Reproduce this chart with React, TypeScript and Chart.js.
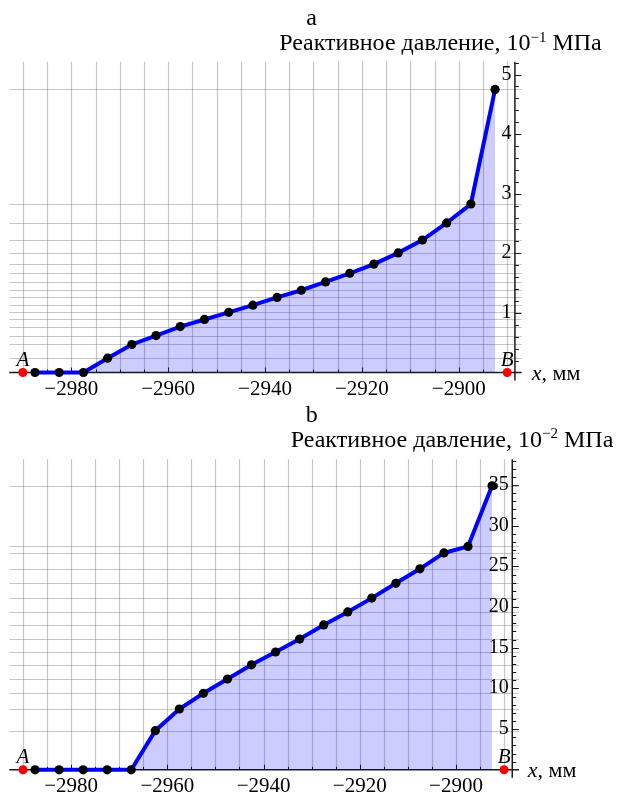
import React, { useEffect, useRef } from "react";
import { Chart, registerables } from "chart.js";

Chart.register(...registerables);

// ---------- data ----------
const positionsMm = [
  -2987.5, -2982.5, -2977.5, -2972.5, -2967.5, -2962.5, -2957.5, -2952.5, -2947.5, -2942.5,
  -2937.5, -2932.5, -2927.5, -2922.5, -2917.5, -2912.5, -2907.5, -2902.5, -2897.5, -2892.5,
];
// panel a, 10^-1 MPa
const pressureA = [
  0, 0, 0, 0.24, 0.47, 0.62, 0.77, 0.89, 1.01, 1.13,
  1.26, 1.38, 1.52, 1.665, 1.82, 2.007, 2.223, 2.51, 2.827, 4.75,
];
// panel b, 10^-2 MPa
const pressureB = [
  0, 0, 0, 0, 0, 4.81, 7.47, 9.4, 11.16, 12.9,
  14.48, 16.07, 17.8, 19.4, 21.1, 22.92, 24.7, 26.65, 27.45, 34.9,
];
const endpointPositions = [-2990, -2890];
const endpointValues = [0, 0];
const endpointLabels = ["A", "B"];
const xTickValues = [-2980, -2960, -2940, -2920, -2900];
const xTickLabels = ["−2980", "−2960", "−2940", "−2920", "−2900"];
const xGridValues = [
  -2990, -2985, -2980, -2975, -2970, -2965, -2960, -2955, -2950, -2945, -2940,
  -2935, -2930, -2925, -2920, -2915, -2910, -2905, -2900, -2895, -2890,
];
const yTicksA = [1, 2, 3, 4, 5];
const yTicksB = [5, 10, 15, 20, 25, 30, 35];
const unitExponents = ["−1", "−2"];
const panelTitles = ["a", "b"];

const SERIF = '"Liberation Serif", "Times New Roman", serif';

type Panel = {
  values: number[];
  yTicks: number[];
  yMax: number;
  minorStep: number;
  xMin: number;
  xMax: number;
  axisAt: number;
  padding: { left: number; right: number; top: number; bottom: number };
  title: string;
  exponent: string;
  titleBaseline: number;
  labelRight: number;
  labelBaseline: number;
  xLabelLeft: number;
};

const panels: Panel[] = [
  {
    values: pressureA,
    yTicks: yTicksA,
    yMax: 5.215,
    minorStep: 0.2,
    xMin: -2992.8,
    xMax: -2887,
    axisAt: -2888.4,
    padding: { left: 9.3, right: 95.3, top: 61.7, bottom: 23.5 },
    title: panelTitles[0],
    exponent: unitExponents[0],
    titleBaseline: 25,
    labelRight: 601.7,
    labelBaseline: 50,
    xLabelLeft: 531.7,
  },
  {
    values: pressureB,
    yTicks: yTicksB,
    yMax: 38.16,
    minorStep: 1,
    xMin: -2992.85,
    xMax: -2886.9,
    axisAt: -2888.3,
    padding: { left: 9.3, right: 98, top: 63.3, bottom: 22.2 },
    title: panelTitles[1],
    exponent: unitExponents[1],
    titleBaseline: 25.7,
    labelRight: 613.3,
    labelBaseline: 50.7,
    xLabelLeft: 527.7,
  },
];

function makePlugin(panel: Panel) {
  return {
    id: "panelDecor",
    beforeDatasetsDraw(chart: any) {
      const { ctx, chartArea } = chart;
      const xs = chart.scales.x;
      const ys = chart.scales.y;
      const y0 = ys.getPixelForValue(0);
      const ax = xs.getPixelForValue(panel.axisAt);
      ctx.save();
      // grid lines
      ctx.strokeStyle = "rgba(120,120,120,0.42)";
      ctx.lineWidth = 1.2;
      for (const v of xGridValues) {
        const px = Math.round(xs.getPixelForValue(v)) + 0.5;
        ctx.beginPath();
        ctx.moveTo(px, chartArea.top);
        ctx.lineTo(px, y0);
        ctx.stroke();
      }
      const seen = new Set<number>();
      for (const v of panel.values) {
        if (v <= 0 || seen.has(v)) continue;
        seen.add(v);
        const py = Math.round(ys.getPixelForValue(v)) + 0.5;
        ctx.beginPath();
        ctx.moveTo(chartArea.left, py);
        ctx.lineTo(chartArea.right, py);
        ctx.stroke();
      }
      // axes
      ctx.strokeStyle = "#1a1a1a";
      ctx.lineWidth = 1.5;
      ctx.beginPath();
      ctx.moveTo(chartArea.left, y0);
      ctx.lineTo(chartArea.right, y0);
      ctx.stroke();
      ctx.beginPath();
      ctx.moveTo(ax, chartArea.top);
      ctx.lineTo(ax, y0 + 8);
      ctx.stroke();
      // y ticks
      ctx.lineWidth = 1;
      const nMinor = Math.round(panel.yMax / panel.minorStep);
      for (let i = 1; i <= nMinor; i++) {
        const v = i * panel.minorStep;
        const py = Math.round(ys.getPixelForValue(v)) + 0.5;
        const major = panel.yTicks.some((t) => Math.abs(t - v) < 1e-6);
        ctx.beginPath();
        ctx.moveTo(ax, py);
        ctx.lineTo(ax + (major ? 6.5 : 4), py);
        ctx.stroke();
      }
      // x ticks
      for (const v of xGridValues) {
        const px = Math.round(xs.getPixelForValue(v)) + 0.5;
        const major = xTickValues.includes(v);
        ctx.beginPath();
        ctx.moveTo(px, y0);
        ctx.lineTo(px, y0 - (major ? 5 : 3));
        ctx.stroke();
      }
      ctx.restore();
    },
    afterDraw(chart: any) {
      const { ctx } = chart;
      const xs = chart.scales.x;
      const ys = chart.scales.y;
      const y0 = ys.getPixelForValue(0);
      const ax = xs.getPixelForValue(panel.axisAt);
      ctx.save();
      ctx.fillStyle = "#000";
      // x tick labels
      ctx.font = `21px ${SERIF}`;
      ctx.textAlign = "center";
      ctx.textBaseline = "alphabetic";
      xTickValues.forEach((v, i) => {
        ctx.fillText(xTickLabels[i], xs.getPixelForValue(v), y0 + 22);
      });
      // y tick labels
      ctx.textAlign = "right";
      ctx.font = `20px ${SERIF}`;
      for (const t of panel.yTicks) {
        ctx.fillText(String(t), ax - 3.5, ys.getPixelForValue(t) + 5);
      }
      // A / B
      ctx.textAlign = "center";
      ctx.font = `italic 21px ${SERIF}`;
      endpointPositions.forEach((v, i) => {
        ctx.fillText(endpointLabels[i], xs.getPixelForValue(v), y0 - 6.5);
      });
      // x axis label
      ctx.textAlign = "left";
      ctx.font = `italic 22px ${SERIF}`;
      let x = panel.xLabelLeft;
      ctx.fillText("x", x, y0 + 7.5);
      x += ctx.measureText("x").width;
      ctx.font = `22px ${SERIF}`;
      ctx.fillText(", мм", x, y0 + 7.5);
      // title
      ctx.textAlign = "center";
      ctx.font = `24px ${SERIF}`;
      ctx.fillText(panel.title, 311.7, panel.titleBaseline);
      // unit label with superscript
      const main = "Реактивное давление, 10";
      const tail = " МПа";
      ctx.textAlign = "left";
      ctx.font = `24px ${SERIF}`;
      const wMain = ctx.measureText(main).width;
      const wTail = ctx.measureText(tail).width;
      ctx.font = `15px ${SERIF}`;
      const wSup = ctx.measureText(panel.exponent).width;
      let lx = panel.labelRight - (wMain + wSup + wTail);
      ctx.font = `24px ${SERIF}`;
      ctx.fillText(main, lx, panel.labelBaseline);
      lx += wMain;
      ctx.font = `15px ${SERIF}`;
      ctx.fillText(panel.exponent, lx, panel.labelBaseline - 8.5);
      lx += wSup;
      ctx.font = `24px ${SERIF}`;
      ctx.fillText(tail, lx, panel.labelBaseline);
      ctx.restore();
    },
  };
}

function PanelChart({ panel, top }: { panel: Panel; top: number }) {
  const ref = useRef<HTMLCanvasElement | null>(null);
  useEffect(() => {
    if (!ref.current) return;
    const chart = new Chart(ref.current, {
      type: "line",
      data: {
        datasets: [
          {
            data: positionsMm.map((x, i) => ({ x, y: panel.values[i] })),
            borderColor: "#0000ff",
            borderWidth: 4,
            backgroundColor: "rgba(0,0,255,0.2)",
            fill: "origin",
            tension: 0,
            pointRadius: 4.6,
            pointBorderWidth: 0,
            pointBackgroundColor: "#000",
            clip: false as any,
          },
          {
            data: endpointPositions.map((x, i) => ({ x, y: endpointValues[i] })),
            showLine: false,
            fill: false,
            pointRadius: 4.5,
            pointBorderWidth: 0,
            pointBackgroundColor: "#ff0000",
            clip: false as any,
          },
        ],
      },
      options: {
        responsive: false,
        animation: false,
        devicePixelRatio: 1,
        layout: { padding: panel.padding },
        plugins: { legend: { display: false }, tooltip: { enabled: false }, title: { display: false } },
        events: [],
        scales: {
          x: { type: "linear", min: panel.xMin, max: panel.xMax, display: false },
          y: { type: "linear", min: 0, max: panel.yMax, display: false },
        },
      },
      plugins: [makePlugin(panel)],
    });
    return () => chart.destroy();
  }, [panel]);
  return (
    <canvas
      ref={ref}
      width={617}
      height={396}
      style={{ position: "absolute", left: 0, top, width: 617, height: 396 }}
    />
  );
}

export default function App() {
  return (
    <div style={{ position: "absolute", left: 0, top: 0, width: 617, height: 792, background: "#fff" }}>
      <PanelChart panel={panels[0]} top={0} />
      <PanelChart panel={panels[1]} top={396} />
    </div>
  );
}
